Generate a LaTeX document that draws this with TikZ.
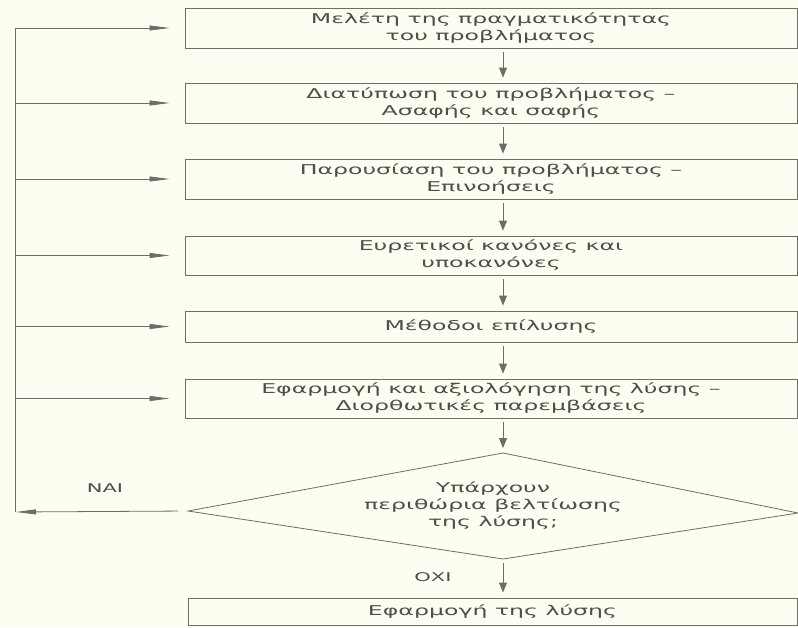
\documentclass[tikz,border=0pt]{standalone}
\usepackage{fontspec}
\setmainfont{DejaVu Sans}
\newfontfamily\grk[FakeStretch=1.75]{DejaVu Sans}
\usetikzlibrary{arrows.meta}
\definecolor{paper}{HTML}{FEFDF2}
\definecolor{ink}{HTML}{6E6E66}
\definecolor{txt}{HTML}{4E4E4A}
\tikzset{
  box/.style={draw=ink, line width=0.9pt, fill=paper, minimum width=612pt, inner sep=0pt, align=center, font=\grk\fontsize{13.5}{17}\selectfont, text=txt},
  dtext/.style={inner sep=0pt, align=center, font=\grk\fontsize{13.5}{17}\selectfont, text=txt},
  down/.style={draw=ink, line width=0.9pt, -{Triangle[length=10pt,width=8pt]}, shorten <=4pt, shorten >=5pt},
  back/.style={draw=ink, line width=0.8pt, -{Triangle[length=20pt,width=5pt]}},
  lab/.style={font=\grk\fontsize{12}{14}\selectfont, text=txt}
}
\begin{document}
\begin{tikzpicture}[x=1pt,y=-1pt]
\fill[paper] (0,0) rectangle (798,627);
\useasboundingbox (0,0) rectangle (798,627);
\node[box, minimum height=40pt] (b1) at (491,28) {Μελέτη της πραγματικότητας\\του προβλήματος};
\node[box, minimum height=40pt] (b2) at (491,103) {Διατύπωση του προβλήματος –\\Ασαφής και σαφής};
\node[box, minimum height=40pt] (b3) at (491,179) {Παρουσίαση του προβλήματος –\\Επινοήσεις};
\node[box, minimum height=39pt] (b4) at (491,255.5) {Ευρετικοί κανόνες και\\υποκανόνες};
\node[box, minimum height=31pt] (b5) at (491,326.5) {Μέθοδοι επίλυσης};
\node[box, minimum height=39pt] (b6) at (491,398.5) {Εφαρμογή και αξιολόγηση της λύσης –\\Διορθωτικές παρεμβάσεις};
% decision diamond
\coordinate (dT) at (503,453);
\coordinate (dB) at (503,559);
\coordinate (dL) at (188,511);
\coordinate (dR) at (798,513);
\draw[ink, line width=0.8pt, fill=paper] (dT) -- (dR) -- (dB) -- (dL) -- cycle;
\node[dtext] (d) at (493,506) {Υπάρχουν\\περιθώρια βελτίωσης\\της λύσης;};
\node[box, minimum width=609pt, minimum height=27pt] (b7) at (492.5,611.5) {Εφαρμογή της λύσης};
\coordinate (ax) at (503,0);
\coordinate (lx) at (15,0);
\coordinate (top) at (15,28);
\coordinate (bot) at (15,512);
\foreach \a/\b in {b1/b2,b2/b3,b3/b4,b4/b5,b5/b6}
  \draw[down] (\a.south -| ax) -- (\b.north -| ax);
\draw[down] (b6.south -| ax) -- (dT);
\draw[down] (dB) -- (b7.north -| ax);
\draw[ink, line width=0.9pt] (top) -- (bot);
\foreach \b in {b1,b2,b3,b4,b5,b6}
  \draw[back, shorten >=15pt] (\b.west -| lx) -- (\b.west);
\draw[back, shorten <=10pt, shorten >=1pt] (dL) -- (bot);
\node[lab] (nai) at (105,488) {ΝΑΙ};
\node[lab] (oxi) at (433,577) {ΟΧΙ};
\end{tikzpicture}
\end{document}
